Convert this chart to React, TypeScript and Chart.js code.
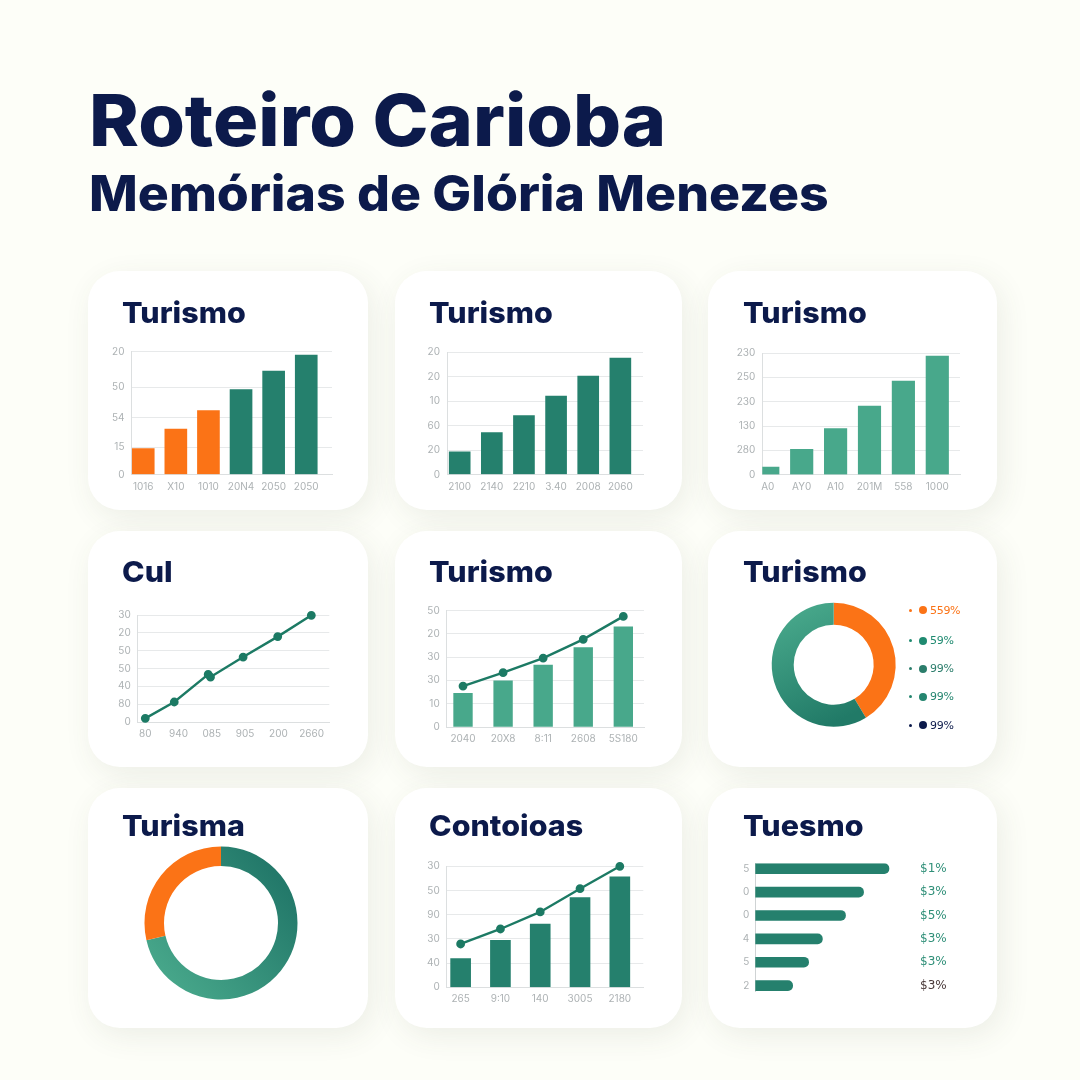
import { useEffect, useRef } from 'react'
import { Chart, registerables } from 'chart.js'

Chart.register(...registerables)

const NAVY = '#0c1a4b'
const ORANGE = '#fb7316'
const TEAL = '#25806d'
const MINT = '#48a88b'
const LINE = '#1c7a64'
const TICK = '#adb2b4'
const GRID = '#e7e9ea'
const AXIS = '#dcdfe0'
const FONT = 'Inter, sans-serif'

// card 1
const tourismLabelsA = ['1016', 'X10', '1010', '20N4', '2050', '2050']
const tourismTicksA = [0, 22, 46, 71, 100]
const tourismTickLabelsA = ['0', '15', '54', '50', '20']
const tourismValuesA = [21, 37, 52, 69, 84, 97]
const tourismColorsA = [ORANGE, ORANGE, ORANGE, TEAL, TEAL, TEAL]

// card 2
const tourismLabelsB = ['2100', '2140', '2210', '3.40', '2008', '2060']
const tourismTicksB = [0, 20, 40, 60, 80, 100]
const tourismTickLabelsB = ['0', '20', '60', '10', '20', '20']
const tourismValuesB = [18.5, 34.3, 48, 64, 80.4, 95]

// card 3
const tourismLabelsC = ['A0', 'AY0', 'A10', '201M', '558', '1000']
const tourismTickLabelsC = ['0', '280', '130', '230', '250', '230']
const tourismValuesC = [6.3, 20.8, 37.8, 56.4, 77, 97.5]

// card 4
const culLabels = ['80', '940', '085', '905', '200', '2660']
const culTicks = [0, 16.7, 33.3, 50, 66.7, 83.3, 100]
const culTickLabels = ['0', '80', '40', '50', '50', '20', '30']
const culX = [0, 0.87, 1.89, 1.96, 2.94, 3.98, 4.99]
const culY = [3.4, 18.7, 44.5, 42, 60.7, 79.8, 99.7]

// card 5
const mixedLabelsA = ['2040', '20X8', '8:11', '2608', '5S180']
const mixedTickLabelsA = ['0', '10', '30', '30', '20', '50']
const mixedBarsA = [28.9, 39.8, 53.3, 68.2, 86.2]
const mixedLineA = [35.2, 46.7, 59.3, 75.4, 95.1]

// card 6
const donutValuesA = [41.3, 58.7]
const legendDots = [ORANGE, '#1f8a70', '#2b7d6b', '#24856f', NAVY]
const legendLabels = ['559%', '59%', '99%', '99%', '99%']

// card 7
const donutValuesB = [71.4, 28.6]

// card 8
const mixedLabelsB = ['265', '9:10', '140', '3005', '2180']
const mixedTickLabelsB = ['0', '40', '30', '90', '50', '30']
const mixedBarsB = [23.7, 38.8, 52.3, 74.1, 91.2]
const mixedLineB = [35.8, 48.2, 62.3, 81.5, 100]

// card 9
const hbarTickLabels = ['5', '0', '0', '4', '5', '2']
const hbarValues = [83.7, 67.8, 56.5, 42, 33.4, 23.4]
const hbarRightLabels = ['$1%', '$3%', '$5%', '$3%', '$3%', '$3%']
const hbarRightColors = ['#2f8f78', '#2f8f78', '#2f8f78', '#2f8f78', '#2f8f78', '#4a3a3a']

const INDEX_5 = [0, 1, 2, 3, 4]
const INDEX_6 = [0, 1, 2, 3, 4, 5]

type Box = { l: number; t: number; r: number; b: number }

const columns = [
  { l: 88, r: 368, titleX: 122 },
  { l: 395, r: 682, titleX: 429 },
  { l: 708, r: 997, titleX: 743 },
]
const rows = [
  { t: 271, b: 510, base: 322.7 },
  { t: 531, b: 767, base: 582.3 },
  { t: 788, b: 1028, base: 836.3 },
]

const tickFont = { family: FONT, size: 10 }

function fixedTicks(values: number[]) {
  return (scale: any) => {
    scale.ticks = values.map((value) => ({ value }))
  }
}

// cartesian options: the plot box is given in page pixels, the axes get a fixed size around it
function cartesian(card: Box, plot: Box, xRange: number[], xLabels: string[], yTicks: number[], yLabels: string[]) {
  const yWidth = 34
  const xHeight = 22
  return {
    responsive: false,
    animation: false as const,
    layout: {
      padding: {
        left: plot.l - card.l - yWidth,
        top: plot.t - card.t,
        right: card.r - plot.r,
        bottom: card.b - plot.b - xHeight,
      },
    },
    plugins: { legend: { display: false }, tooltip: { enabled: false } },
    scales: {
      x: {
        type: 'linear',
        offset: false,
        min: xRange[0],
        max: xRange[1],
        grid: { display: false, drawTicks: false },
        border: { color: AXIS },
        afterBuildTicks: fixedTicks(xLabels.map((_, i) => i)),
        afterFit: (s: any) => { s.height = xHeight },
        ticks: {
          autoSkip: false,
          maxRotation: 0,
          padding: 6,
          color: TICK,
          font: tickFont,
          callback: (_: any, i: number) => xLabels[i],
        },
      },
      y: {
        min: 0,
        max: 100,
        grid: { color: GRID, drawTicks: false },
        border: { color: AXIS },
        afterBuildTicks: fixedTicks(yTicks),
        afterFit: (s: any) => { s.width = yWidth },
        ticks: {
          autoSkip: false,
          padding: 7,
          color: TICK,
          font: tickFont,
          callback: (_: any, i: number) => yLabels[i],
        },
      },
    },
  }
}

function barSet(values: number[], color: string | string[], thickness: number) {
  return {
    type: 'bar',
    order: 2,
    data: values.map((y, x) => ({ x, y })),
    backgroundColor: color,
    barThickness: thickness,
  }
}

function lineSet(xs: number[], ys: number[]) {
  return {
    type: 'line',
    order: 1,
    clip: false,
    data: ys.map((y, i) => ({ x: xs[i], y })),
    borderColor: LINE,
    backgroundColor: LINE,
    borderWidth: 2.4,
    pointRadius: 3.2,
    tension: 0,
  }
}

function donutOptions(card: Box, cx: number, cy: number, outer: number, inner: number) {
  return {
    responsive: false,
    animation: false as const,
    radius: outer,
    cutout: inner,
    layout: {
      padding: {
        left: cx - outer - card.l,
        top: cy - outer - card.t,
        right: card.r - cx - outer,
        bottom: card.b - cy - outer,
      },
    },
    plugins: { legend: { display: false }, tooltip: { enabled: false } },
  }
}

// one slice is flat orange, the other one has a canvas gradient
function sliceColor(orangeIndex: number, from: string, to: string, x0: number, y0: number, x1: number, y1: number) {
  return (c: any) => {
    if (c.dataIndex === orangeIndex) return ORANGE
    const g = c.chart.ctx.createLinearGradient(x0, y0, x1, y1)
    g.addColorStop(0, from)
    g.addColorStop(1, to)
    return g
  }
}

function Card({ col, row, title, build, children }: any) {
  const canvasRef = useRef<HTMLCanvasElement>(null)
  const c = columns[col]
  const r = rows[row]
  const box: Box = { l: c.l, t: r.t, r: c.r, b: r.b }

  useEffect(() => {
    if (!canvasRef.current) return
    const chart = new Chart(canvasRef.current, build(box))
    return () => { chart.destroy() }
  }, [])

  return (
    <>
      <div style={{
        position: 'absolute', left: box.l, top: box.t, width: box.r - box.l, height: box.b - box.t,
        background: '#ffffff', borderRadius: 32, boxShadow: '5px 8px 30px rgba(70,75,60,0.09)',
      }}>
        <canvas ref={canvasRef} width={box.r - box.l} height={box.b - box.t} style={{ display: 'block' }} />
      </div>
      <div style={{
        position: 'absolute', left: c.titleX, top: r.base - 25, fontFamily: FONT, fontWeight: 800, fontSize: 29,
        lineHeight: 1, color: NAVY, whiteSpace: 'nowrap', transform: 'scaleX(1.05)', transformOrigin: 'left',
      }}>{title}</div>
      {children}
    </>
  )
}

export default function App() {
  return (
    <div style={{ position: 'absolute', left: 0, top: 0, width: 1080, height: 1080, background: '#fdfef8', overflow: 'hidden' }}>
      <div style={{ position: 'absolute', left: 89, top: 84, fontFamily: FONT, fontWeight: 800, fontSize: 72, lineHeight: 1, color: NAVY, whiteSpace: 'nowrap', transform: 'scaleX(1.048)', transformOrigin: 'left' }}>
        Roteiro Carioba
      </div>
      <div style={{ position: 'absolute', left: 89, top: 169, fontFamily: FONT, fontWeight: 800, fontSize: 49, lineHeight: 1, color: NAVY, whiteSpace: 'nowrap', transform: 'scaleX(1.056)', transformOrigin: 'left' }}>
        Memórias de Glória Menezes
      </div>

      <Card col={0} row={0} title="Turismo" build={(card: Box) => ({
        data: { datasets: [barSet(tourismValuesA, tourismColorsA, 22)] },
        options: cartesian(card, { l: 131.5, t: 351.5, r: 332, b: 474.5 }, [-0.36, 5.79], tourismLabelsA, tourismTicksA, tourismTickLabelsA),
      })} />

      <Card col={1} row={0} title="Turismo" build={(card: Box) => ({
        data: { datasets: [barSet(tourismValuesB, TEAL, 21)] },
        options: cartesian(card, { l: 447, t: 352, r: 643, b: 474.5 }, [-0.395, 5.705], tourismLabelsB, tourismTicksB, tourismTickLabelsB),
      })} />

      <Card col={2} row={0} title="Turismo" build={(card: Box) => ({
        data: { datasets: [barSet(tourismValuesC, MINT, 22.5)] },
        options: cartesian(card, { l: 762.3, t: 353, r: 960, b: 474.7 }, [-0.162, 5.67], tourismLabelsC, tourismTicksB, tourismTickLabelsC),
      })} />

      <Card col={0} row={1} title="Cul" build={(card: Box) => ({
        data: { datasets: [lineSet(culX, culY)] },
        options: cartesian(card, { l: 137.7, t: 615, r: 329.3, b: 722 }, [-0.228, 5.53], culLabels, culTicks, culTickLabels),
      })} />

      <Card col={1} row={1} title="Turismo" build={(card: Box) => ({
        data: { datasets: [barSet(mixedBarsA, MINT, 18.7), lineSet(INDEX_5, mixedLineA)] },
        options: cartesian(card, { l: 446.7, t: 610.7, r: 644, b: 727 }, [-0.407, 4.516], mixedLabelsA, tourismTicksB, mixedTickLabelsA),
      })} />

      <Card col={2} row={1} title="Turismo" build={(card: Box) => ({
        type: 'doughnut',
        data: {
          datasets: [{
            data: donutValuesA,
            borderWidth: 0,
            backgroundColor: sliceColor(0, MINT, '#217a67', 80, 80, 130, 190),
          }],
        },
        options: donutOptions(card, 833.7, 664.7, 62, 40),
      })}>
        {legendLabels.map((label, i) => (
          <div key={i} style={{ position: 'absolute', left: 909, top: [610, 640.6, 668.7, 696.7, 725.3][i] - 8, height: 16, display: 'flex', alignItems: 'center', fontFamily: 'DejaVu Sans, sans-serif', fontSize: 11, letterSpacing: -0.3, color: legendDots[i], whiteSpace: 'nowrap' }}>
            <span style={{ width: 3, height: 3, borderRadius: 2, background: legendDots[i], marginRight: 7 }} />
            <span style={{ width: 8, height: 8, borderRadius: 4, background: legendDots[i], marginRight: 3 }} />
            {label}
          </div>
        ))}
      </Card>

      <Card col={0} row={2} title="Turisma" build={(card: Box) => ({
        type: 'doughnut',
        data: {
          datasets: [{
            data: donutValuesB,
            borderWidth: 0,
            backgroundColor: sliceColor(1, '#23796a', MINT, 190, 90, 70, 190),
          }],
        },
        options: donutOptions(card, 221, 923, 76.5, 57),
      })} />

      <Card col={1} row={2} title="Contoioas" build={(card: Box) => ({
        data: { datasets: [barSet(mixedBarsB, TEAL, 20), lineSet(INDEX_5, mixedLineB)] },
        options: cartesian(card, { l: 446.7, t: 866.3, r: 643.3, b: 987.3 }, [-0.35, 4.59], mixedLabelsB, tourismTicksB, mixedTickLabelsB),
      })} />

      <Card col={2} row={2} title="Tuesmo" build={(card: Box) => ({
        type: 'bar',
        data: {
          datasets: [{
            data: hbarValues.map((x, y) => ({ x, y })),
            backgroundColor: TEAL,
            barThickness: 10,
            borderRadius: { topRight: 5, bottomRight: 5 },
            borderSkipped: false,
          }],
        },
        options: {
          responsive: false,
          animation: false as const,
          indexAxis: 'y',
          layout: { padding: { left: 755.3 - card.l - 24, top: 863.3 - card.t, right: card.r - 915 - 40, bottom: card.b - 991 } },
          plugins: { legend: { display: false }, tooltip: { enabled: false } },
          scales: {
            x: { type: 'linear', min: 0, max: 100, display: false, offset: false },
            y: {
              type: 'linear',
              reverse: true,
              offset: false,
              min: -0.23,
              max: 5.23,
              grid: { display: false, drawTicks: false },
              border: { color: '#cfd3d4' },
              afterBuildTicks: fixedTicks(INDEX_6),
              afterFit: (s: any) => { s.width = 24 },
              ticks: { autoSkip: false, padding: 6, color: TICK, font: tickFont, callback: (_: any, i: number) => hbarTickLabels[i] },
            },
            y2: {
              type: 'linear',
              position: 'right',
              reverse: true,
              offset: false,
              min: -0.23,
              max: 5.23,
              grid: { display: false, drawTicks: false },
              border: { display: false },
              afterBuildTicks: fixedTicks(INDEX_6),
              afterFit: (s: any) => { s.width = 40 },
              ticks: {
                autoSkip: false,
                padding: 5,
                color: (c: any) => hbarRightColors[c.index],
                font: { family: 'DejaVu Sans, sans-serif', size: 12 },
                callback: (_: any, i: number) => hbarRightLabels[i],
              },
            },
          },
        },
      })} />
    </div>
  )
}
